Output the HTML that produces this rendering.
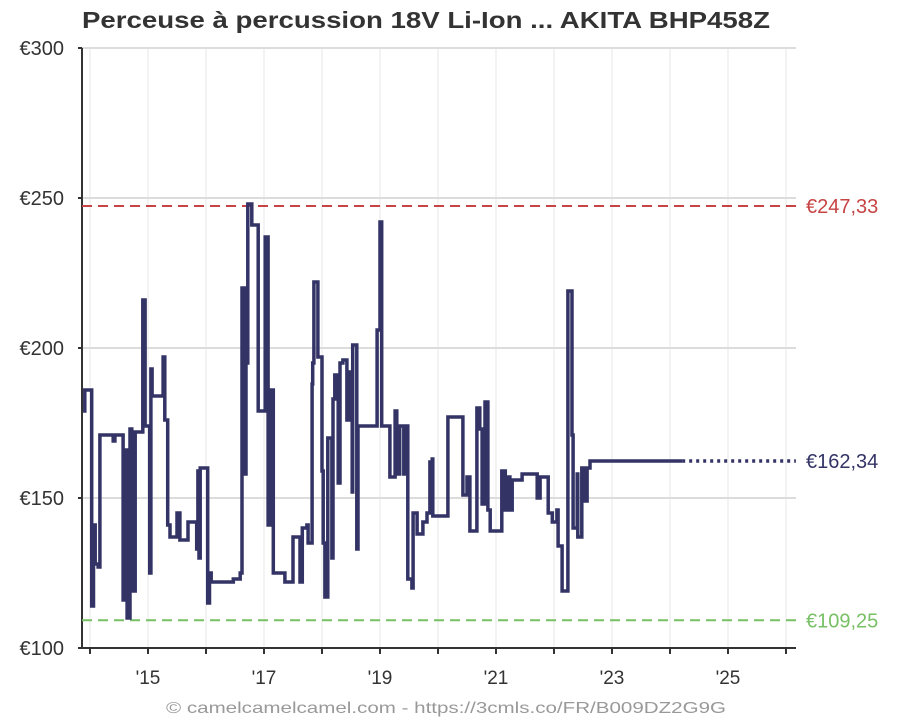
<!DOCTYPE html>
<html><head><meta charset="utf-8"><style>
body{margin:0;background:#fff;font-family:"Liberation Sans",sans-serif}
svg text{font-family:"Liberation Sans",sans-serif}
</style></head><body>
<svg width="900" height="720">
<text x="426" y="28" text-anchor="middle" font-size="23" font-weight="bold" fill="#333" textLength="688" lengthAdjust="spacingAndGlyphs">Perceuse à percussion 18V Li-Ion ... AKITA BHP458Z</text>
<g id="grid"></g>
<g id="axes"></g>
<g id="refs"></g>
<g id="series"></g>
<text x="446" y="713" text-anchor="middle" font-size="16" fill="#999" textLength="560" lengthAdjust="spacingAndGlyphs">© camelcamelcamel.com - https://3cmls.co/FR/B009DZ2G9G</text>
</svg>
<script>
const dates=[2013.88,2013.91,2014.03,2014.06,2014.09,2014.14,2014.17,2014.40,2014.43,2014.57,2014.60,2014.64,2014.69,2014.72,2014.78,2014.91,2014.95,2015.03,2015.05,2015.07,2015.26,2015.29,2015.34,2015.38,2015.50,2015.55,2015.69,2015.84,2015.86,2015.88,2015.90,2016.03,2016.06,2016.09,2016.47,2016.59,2016.62,2016.66,2016.69,2016.72,2016.79,2016.90,2017.02,2017.07,2017.10,2017.16,2017.36,2017.50,2017.62,2017.66,2017.74,2017.76,2017.83,2017.84,2017.86,2017.93,2018.00,2018.02,2018.05,2018.10,2018.17,2018.19,2018.22,2018.28,2018.31,2018.36,2018.43,2018.48,2018.52,2018.53,2018.60,2018.62,2018.95,2019.00,2019.03,2019.17,2019.26,2019.29,2019.34,2019.41,2019.47,2019.48,2019.55,2019.57,2019.64,2019.74,2019.81,2019.86,2019.90,2019.91,2020.17,2020.43,2020.50,2020.55,2020.67,2020.72,2020.76,2020.81,2020.86,2020.90,2021.10,2021.16,2021.19,2021.24,2021.28,2021.45,2021.64,2021.71,2021.76,2021.90,2021.97,2022.05,2022.07,2022.14,2022.24,2022.31,2022.33,2022.40,2022.41,2022.48,2022.53,2022.57,2022.62];
const prices=[179,186,114,141,128,127,171,169,171,116,166,110,173,119,172,216,174,125,193,184,197,176,141,137,145,136,142,133,159,130,160,115,125,122,123,125,220,158,195,248,241,179,237,141,186,125,122,137,122,140,141,135,188,195,222,197,159,135,117,170,130,183,191,155,195,196,176,192,152,201,133,174,206,242,174,157,179,158,174,158,174,123,120,145,138,142,145,162,163,144,177,151,157,139,180,173,148,182,146,139,159,146,157,146,156,158,158,150,157,145,142,146,134,119,219,171,140,158,137,160,149,160,162.34];
const lastSolidDate=2024.21, endDate=2026.17;
const yTicks=[100,150,200,250,300];
const xTickYears=[2015,2017,2019,2021,2023,2025];
const xTickLabels=["'15","'17","'19","'21","'23","'25"];
const maxPrice=247.33, minPrice=109.25, curPrice=162.34;
const maxLabel="€247,33", minLabel="€109,25", curLabel="€162,34";

const X0=82,X1=796,Y0=48,Y1=648;
const xs=y=>148+(y-2015)*58;
const ys=p=>Y0+(300-p)*(Y1-Y0)/200;
const NS="http://www.w3.org/2000/svg";
function mk(tag,parent,attrs){const e=document.createElementNS(NS,tag);for(const k in attrs)e.setAttribute(k,attrs[k]);parent.appendChild(e);return e;}
const grid=document.getElementById('grid'),axes=document.getElementById('axes'),refs=document.getElementById('refs'),series=document.getElementById('series');
for(let yr=2014;yr<=2026;yr++){const l=mk('line',grid,{x1:xs(yr),x2:xs(yr),y1:Y0,y2:Y1,stroke:'#f3f3f3','stroke-width':2});

}
yTicks.forEach(v=>{const l=mk('line',grid,{x1:X0,x2:X1,y1:ys(v),y2:ys(v),stroke:'#dcdcdc','stroke-width':2});


const t=mk('text',axes,{x:64,y:ys(v)+7,'text-anchor':'end','font-size':20,fill:'#333'});t.textContent='€'+v;


const tk=mk('line',axes,{x1:X0-4,x2:X0,y1:ys(v),y2:ys(v),stroke:'#333','stroke-width':2});

});
const ax=mk('line',axes,{x1:X0,x2:X0,y1:Y0,y2:Y1,stroke:'#333','stroke-width':2});


const bx=mk('line',axes,{x1:X0,x2:X1,y1:Y1,y2:Y1,stroke:'#333','stroke-width':2});


xTickYears.forEach((yr,i)=>{const t=mk('text',axes,{x:xs(yr),y:684,'text-anchor':'middle','font-size':19,fill:'#333'});t.textContent=xTickLabels[i];

});
for(let yr=2014;yr<=2026;yr++){const tk=mk('line',axes,{x1:xs(yr),x2:xs(yr),y1:Y1,y2:Y1+6,stroke:'#333','stroke-width':2});

}
function ref(p,color,label,name){const l=mk('line',refs,{x1:X0,x2:X1,y1:ys(p),y2:ys(p),stroke:color,'stroke-width':2,'stroke-dasharray':'10,6'});


const t=mk('text',refs,{x:806,y:ys(p)+7,'font-size':20,fill:color});t.textContent=label;

}
ref(maxPrice,'#c74444',maxLabel,'highest-price');
ref(minPrice,'#77c065',minLabel,'lowest-price');
let d='M'+xs(dates[0])+','+ys(prices[0]);
for(let i=1;i<dates.length;i++){d+='H'+xs(dates[i]).toFixed(1)+'V'+ys(prices[i]).toFixed(1);}
d+='H'+xs(lastSolidDate);
const p=mk('path',series,{d:d,fill:'none',stroke:'#333366','stroke-width':3.5,'stroke-linejoin':'miter'});


const dl=mk('line',series,{x1:xs(lastSolidDate),x2:xs(endDate),y1:ys(curPrice),y2:ys(curPrice),stroke:'#333366','stroke-width':3.5,'stroke-dasharray':'3,4'});


const ct=mk('text',series,{x:806,y:ys(curPrice)+7,'font-size':20,fill:'#333366'});ct.textContent=curLabel;


</script>
</body></html>
